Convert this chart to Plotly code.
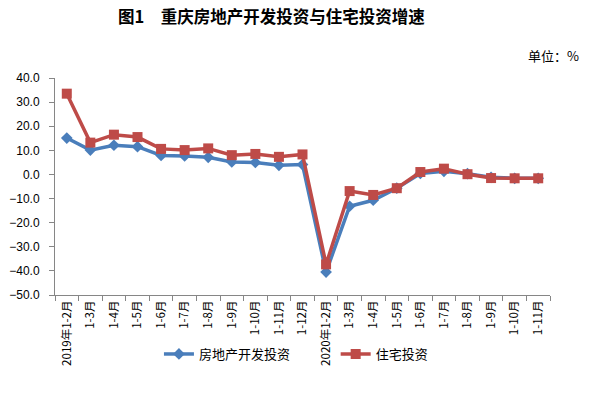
import plotly.graph_objects as go

labels = ["2019年1-2月", "1-3月", "1-4月", "1-5月", "1-6月", "1-7月", "1-8月", "1-9月",
          "1-10月", "1-11月", "1-12月",
          "2020年1-2月", "1-3月", "1-4月", "1-5月", "1-6月", "1-7月", "1-8月", "1-9月",
          "1-10月", "1-11月"]
real_estate = [15.1, 10.1, 12.1, 11.5, 7.9, 7.7, 7.1, 5.2, 5.0, 3.8, 4.1,
               -40.5, -13.2, -10.7, -5.7, 0.4, 1.3, 0.3, -1.2, -1.6, -1.6]
housing = [33.5, 13.2, 16.5, 15.5, 10.6, 10.1, 10.8, 8.0, 8.5, 7.3, 8.3,
           -37.3, -6.9, -8.5, -5.7, 1.0, 2.4, 0.1, -1.5, -1.6, -1.6]
yticks = [40, 30, 20, 10, 0, -10, -20, -30, -40, -50]

x = list(range(len(labels)))
FONT = "Noto Sans CJK SC"

fig = go.Figure()
fig.add_trace(go.Scatter(
    x=x, y=real_estate, name="房地产开发投资", mode="lines+markers",
    line=dict(color="#4A7EBB", width=3.5),
    marker=dict(symbol="diamond", size=9, color="#4A7EBB"),
    legend="legend",
))
fig.add_trace(go.Scatter(
    x=x, y=housing, name="住宅投资", mode="lines+markers",
    line=dict(color="#BE4B48", width=3.5),
    marker=dict(symbol="square", size=10, color="#BE4B48"),
    legend="legend2",
))

leg_common = dict(orientation="h", yanchor="middle", y=-0.272, xanchor="left",
                  font=dict(size=13, family=FONT), itemwidth=30,
                  bgcolor="rgba(0,0,0,0)")

fig.update_layout(
    width=597, height=393,
    margin=dict(l=55, r=47, t=78, b=98, autoexpand=False),
    paper_bgcolor="white", plot_bgcolor="white",
    font=dict(family=FONT, color="#000000", size=11),
    title=dict(text="<b>图1　重庆房地产开发投资与住宅投资增速</b>",
               x=118 / 597, xanchor="left", xref="container", y=0.955, yanchor="middle",
               font=dict(size=16.5, family=FONT, color="#000")),
    showlegend=True,
    legend=dict(x=0.21, **leg_common),
    legend2=dict(x=0.567, **leg_common),
    annotations=[dict(text="单位：%", x=1.062, xref="paper", xanchor="right",
                      y=1.105, yref="paper", yanchor="middle", showarrow=False,
                      font=dict(size=13))],
)

fig.update_xaxes(
    range=[-0.5, len(labels) - 0.5], automargin=False,
    tickmode="array", tickvals=x, ticktext=labels, tickangle=-90,
    ticks="", showline=True, linecolor="#868686", linewidth=1,
    showgrid=False, zeroline=False,
    tickfont=dict(size=11.5, family=FONT),
    minor=dict(tickmode="array", tickvals=[i - 0.5 for i in range(len(labels) + 1)],
               ticks="outside", ticklen=5, tickcolor="#868686", showgrid=False),
)
fig.update_yaxes(
    range=[-50, 40], automargin=False, tickmode="array", tickvals=yticks,
    tickformat=".1f", ticks="outside", ticklen=5, tickcolor="#868686",
    ticklabelstandoff=7,
    showline=True, linecolor="#868686", linewidth=1,
    showgrid=False, zeroline=False,
    tickfont=dict(size=12, family="Liberation Sans"),
)

fig.write_html("out.html", config={"displayModeBar": False},
               post_script="document.body.style.margin='0';")
